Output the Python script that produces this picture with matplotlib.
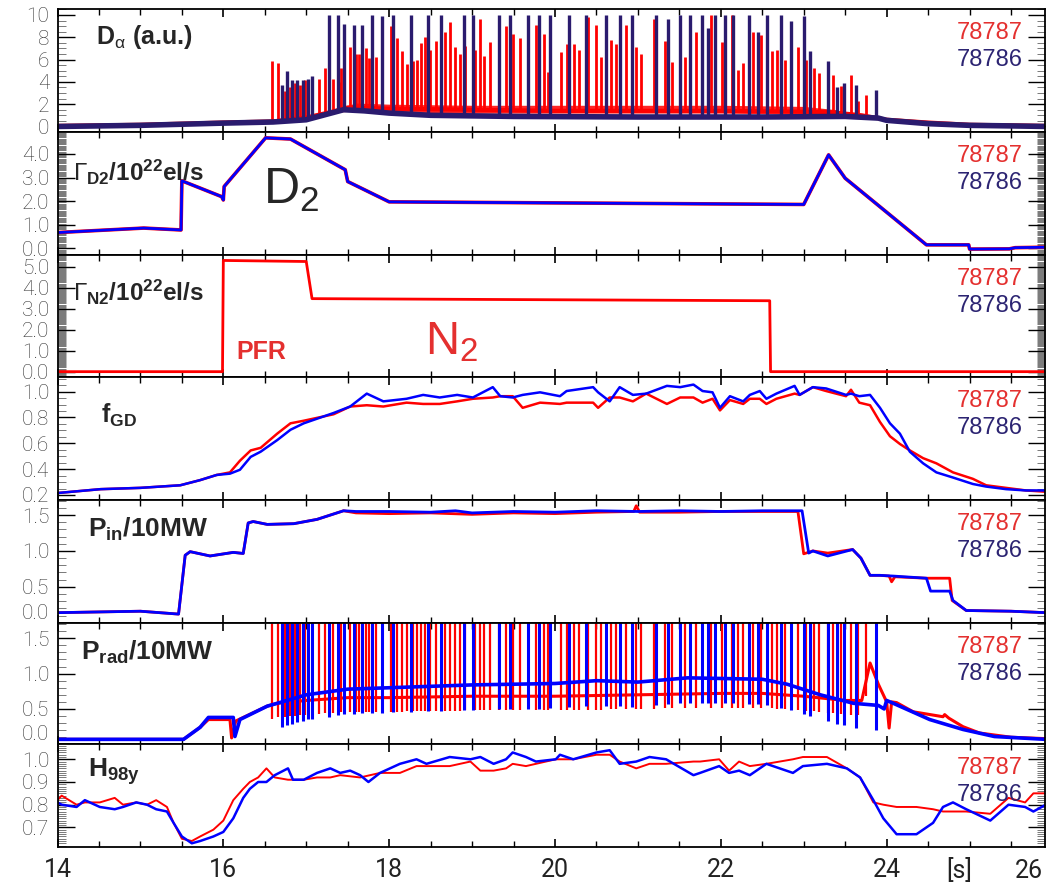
import numpy as np
import matplotlib
matplotlib.use("Agg")
import matplotlib.pyplot as plt
from matplotlib.ticker import MultipleLocator, FixedLocator

plt.rcParams['font.family'] = ['Roboto', 'DejaVu Sans']
plt.rcParams['font.weight'] = 'light'
plt.rcParams['mathtext.fontset'] = 'custom'
plt.rcParams['mathtext.rm'] = 'Liberation Sans'
plt.rcParams['mathtext.bf'] = 'Liberation Sans:bold'
plt.rcParams['mathtext.it'] = 'Liberation Sans'

RED = '#ff0000'
BLUE = '#0000ff'
NAVY = '#2a1b6e'
TXT_RED = '#e4302f'
TXT_NAVY = '#2c2472'
GRAY = '#262626'

# ---------------- data ----------------
# D-alpha baselines
da_base_t_red = [14.0, 15.0, 16.0, 16.6, 17.0, 17.3, 17.5, 18.0, 19.0, 20.0, 22.0, 23.3, 23.7, 24.0, 24.5, 25.0, 25.5, 25.92]
da_base_v_red = [0.05, 0.15, 0.35, 0.45, 0.8, 1.3, 1.7, 1.6, 1.5, 1.4, 1.4, 1.3, 1.0, 0.6, 0.35, 0.15, 0.1, 0.05]
# red inter-ELM noise band
da_band_t = [17.4, 17.6, 18.0, 19.0, 20.0, 21.0, 22.0, 23.0, 23.4]
da_band_lo = [1.3, 1.4, 1.3, 1.2, 1.2, 1.2, 1.2, 1.1, 1.0]
da_band_hi = [1.7, 2.1, 2.0, 1.9, 1.9, 1.9, 1.9, 1.8, 1.5]
da_base_t_navy = [14.0, 15.0, 16.0, 16.6, 17.0, 17.2, 17.45, 17.7, 18.0, 18.5, 19.5, 21.0, 22.5, 23.5, 23.9, 24.0, 24.5, 25.0, 25.5, 25.92]
da_base_v_navy = [0.0, 0.1, 0.3, 0.4, 0.6, 1.0, 1.5, 1.4, 1.2, 1.0, 0.9, 0.85, 0.85, 0.9, 0.75, 0.55, 0.25, 0.1, 0.05, 0.0]

# ELM spikes (time, peak)
elm_t_red = [16.59, 16.66, 16.74, 16.80, 16.86, 16.93, 16.99, 17.15, 17.23, 17.32, 17.39, 17.42, 17.53, 17.60,
             17.64, 17.72, 17.76, 17.84, 18.02, 18.10, 18.15, 18.21, 18.29, 18.33, 18.39, 18.43, 18.49, 18.56,
             18.67, 18.73, 18.80, 18.86, 18.92, 19.04, 19.10, 19.14, 19.22, 19.33, 19.41, 19.49, 19.58, 19.77,
             19.87, 19.92, 20.07, 20.14, 20.23, 20.29, 20.40, 20.50, 20.56, 20.67, 20.74, 20.86, 20.98, 21.04,
             21.19, 21.33, 21.41, 21.57, 21.70, 21.88, 22.01, 22.14, 22.21, 22.27, 22.39, 22.48, 22.62, 22.68,
             22.77, 22.93, 23.03, 23.12, 23.18, 23.29, 23.35, 23.45, 23.57, 23.65, 23.75]
elm_h_red = [5.9, 5.7, 3.2, 3.5, 3.9, 3.7, 4.2, 4.3, 5.2, 4.3, 4.0, 5.2, 7.1, 6.5,
             6.5, 7.0, 6.1, 6.2, 9.0, 7.9, 6.8, 5.6, 5.9, 6.0, 7.5, 8.0, 6.9, 7.7,
             8.5, 9.4, 7.1, 6.5, 7.2, 6.9, 9.6, 6.3, 7.6, 9.8, 9.0, 8.3, 7.9, 9.1,
             8.3, 4.9, 6.7, 7.4, 7.4, 6.9, 9.8, 9.1, 6.2, 7.8, 7.4, 9.1, 7.1, 6.5,
             9.6, 7.7, 5.8, 6.2, 8.5, 10.0, 7.6, 10.0, 5.1, 5.7, 8.5, 8.2, 6.8, 6.9,
             6.0, 7.1, 6.0, 5.2, 4.8, 4.4, 4.6, 3.6, 4.6, 2.3, 2.8]
elm_t_navy = [16.71, 16.77, 16.83, 16.89, 16.96, 17.02, 17.07, 17.27, 17.38, 17.46, 17.57, 17.67, 17.79, 17.91,
              18.05, 18.26, 18.47, 18.62, 18.90, 19.01, 19.32, 19.46, 19.68, 19.81, 19.94, 20.17, 20.37, 20.62,
              20.79, 20.93, 21.22, 21.36, 21.51, 21.63, 21.77, 21.84, 21.93, 22.05, 22.15, 22.34, 22.45, 22.56,
              22.72, 22.85, 23.00, 23.08, 23.29, 23.40, 23.48, 23.63, 23.87]
elm_h_navy = [3.7, 5.0, 4.2, 4.2, 4.2, 4.3, 4.5, 10.0, 10.0, 9.2, 9.1, 9.1, 10.0, 9.9,
              10.0, 10.0, 10.0, 10.0, 10.0, 10.0, 10.0, 10.0, 10.0, 10.0, 10.0, 10.0, 10.0, 10.0,
              10.0, 10.0, 10.0, 9.6, 10.0, 10.0, 10.0, 8.8, 10.0, 10.0, 10.0, 10.0, 8.5, 10.0,
              10.0, 9.5, 9.9, 6.8, 5.9, 3.5, 3.9, 3.7, 3.3]

# D2 fuelling
d2_t = [14.0, 15.04, 15.49, 15.5, 15.98, 16.0, 16.01, 16.51, 16.81, 17.47, 17.5, 18.0, 23.0, 23.30, 23.50,
        24.48, 24.99, 25.0, 25.48, 25.55, 25.92]
d2_v = [0.67, 0.86, 0.78, 2.86, 2.19, 2.05, 2.62, 4.68, 4.63, 3.33, 2.83, 1.97, 1.86, 3.96, 2.97,
        0.15, 0.15, -0.03, -0.02, 0.03, 0.05]

# N2 seeding
n2_t = [14.0, 15.99, 16.0, 17.0, 17.07, 22.59, 22.6, 25.92]
n2_v = [0.0, 0.0, 5.3, 5.25, 3.48, 3.38, 0.0, 0.0]

# Greenwald fraction
fgd_t = [14.0, 14.52, 15.0, 15.48, 15.72, 15.92, 16.08, 16.2, 16.33, 16.45, 16.65, 16.81, 16.97, 17.33, 17.53,
         17.73, 17.93, 18.21, 18.41, 18.61, 18.82, 19.01, 19.25, 19.34, 19.49, 19.61, 19.82, 20.06, 20.14, 20.46,
         20.52, 20.66, 20.78, 20.94, 21.10, 21.35, 21.51, 21.67, 21.78, 21.90, 21.99, 22.11, 22.27, 22.35, 22.47,
         22.55, 22.67, 22.89, 22.95, 23.11, 23.27, 23.51, 23.57, 23.67, 23.80, 23.92, 24.04, 24.16, 24.28, 24.44,
         24.60, 24.80, 25.04, 25.20, 25.44, 25.68, 25.92]
fgd_red = [0.215, 0.245, 0.255, 0.275, 0.315, 0.355, 0.375, 0.465, 0.545, 0.565, 0.675, 0.755, 0.775, 0.825, 0.885,
           0.895, 0.885, 0.915, 0.905, 0.905, 0.925, 0.945, 0.955, 0.965, 0.965, 0.875, 0.915, 0.905, 0.915, 0.915,
           0.875, 0.955, 0.955, 0.925, 0.985, 0.905, 0.955, 0.955, 0.915, 0.945, 0.855, 0.935, 0.905, 0.945, 0.945,
           0.905, 0.945, 0.985, 0.975, 1.035, 1.005, 0.965, 1.015, 0.915, 0.895, 0.765, 0.655, 0.595, 0.545, 0.485,
           0.445, 0.375, 0.325, 0.275, 0.255, 0.235, 0.225]
fgd_blue = [0.215, 0.245, 0.255, 0.275, 0.315, 0.355, 0.365, 0.395, 0.495, 0.535, 0.625, 0.705, 0.755, 0.835, 0.885,
            0.985, 0.925, 0.945, 0.975, 0.955, 0.975, 0.955, 1.035, 0.965, 0.955, 0.975, 0.995, 0.965, 1.005, 1.035,
            0.995, 0.925, 1.035, 0.975, 0.985, 1.045, 1.035, 1.055, 1.005, 0.995, 0.875, 0.965, 0.925, 0.975, 1.005,
            0.945, 0.985, 1.045, 0.975, 1.035, 1.025, 0.975, 0.985, 0.965, 0.975, 0.875, 0.755, 0.675, 0.535, 0.445,
            0.375, 0.335, 0.285, 0.265, 0.245, 0.235, 0.235]

# Heating power
pin_t_red = [14.0, 15.0, 15.46, 15.54, 15.6, 15.84, 16.12, 16.24, 16.30, 16.36, 16.53, 16.85, 17.13, 17.45, 17.6,
             18.0, 18.5, 19.0, 19.5, 20.0, 20.5, 20.95, 20.98, 21.02, 21.5, 22.0, 22.5, 22.93, 23.0, 23.11, 23.29,
             23.59, 23.69, 23.80, 23.92, 24.03, 24.06, 24.10, 24.48, 24.76, 24.79, 24.96, 25.5, 25.92]
pin_v_red = [0.14, 0.16, 0.12, 0.94, 0.99, 0.93, 0.98, 0.965, 1.39, 1.41, 1.37, 1.38, 1.44, 1.56, 1.53,
             1.52, 1.53, 1.51, 1.53, 1.52, 1.54, 1.55, 1.63, 1.54, 1.54, 1.55, 1.55, 1.55, 0.96, 1.0, 0.97,
             1.02, 0.90, 0.66, 0.66, 0.65, 0.57, 0.64, 0.62, 0.62, 0.31, 0.17, 0.16, 0.14]
pin_t_blue = [14.0, 15.0, 15.46, 15.54, 15.6, 15.84, 16.12, 16.24, 16.30, 16.36, 16.53, 16.85, 17.13, 17.45, 17.6,
              18.0, 18.5, 18.8, 19.0, 19.5, 20.0, 20.5, 21.0, 21.5, 22.0, 22.5, 22.98, 23.06, 23.11, 23.29, 23.59,
              23.69, 23.80, 23.92, 24.08, 24.48, 24.53, 24.76, 24.80, 24.96, 25.5, 25.92]
pin_v_blue = [0.14, 0.16, 0.12, 0.94, 0.99, 0.93, 0.98, 0.965, 1.39, 1.41, 1.37, 1.38, 1.44, 1.56, 1.55,
              1.55, 1.54, 1.56, 1.53, 1.55, 1.54, 1.56, 1.55, 1.56, 1.55, 1.56, 1.56, 0.97, 1.0, 0.93, 1.02,
              0.90, 0.66, 0.66, 0.65, 0.62, 0.44, 0.44, 0.31, 0.17, 0.16, 0.14]

# Radiated power (inter-ELM level)
prad_t_red = [14.0, 15.52, 15.72, 15.82, 16.08, 16.10, 16.15, 16.53, 16.65, 17.0, 17.5, 18.0, 19.0, 20.0, 21.0,
              22.0, 22.5, 23.0, 23.5, 23.7, 23.8, 23.9, 24.0, 24.03, 24.06, 24.12, 24.32, 24.68, 24.70, 24.75,
              24.92, 25.12, 25.5, 25.92]
prad_v_red = [0.07, 0.07, 0.24, 0.35, 0.35, 0.09, 0.33, 0.54, 0.58, 0.62, 0.66, 0.66, 0.68, 0.68, 0.70,
              0.72, 0.72, 0.68, 0.62, 0.62, 1.15, 0.85, 0.60, 0.23, 0.60, 0.59, 0.46, 0.39, 0.42, 0.37,
              0.25, 0.16, 0.10, 0.08]
prad_t_blue = [14.0, 15.52, 15.72, 15.82, 16.12, 16.14, 16.2, 16.53, 16.65, 17.0, 17.5, 18.0, 19.0, 20.0, 20.5,
               21.0, 21.6, 22.5, 22.8, 23.2, 23.6, 23.9, 23.97, 24.0, 24.08, 24.52, 24.92, 25.3, 25.92]
prad_v_blue = [0.07, 0.07, 0.24, 0.38, 0.38, 0.11, 0.35, 0.54, 0.58, 0.70, 0.78, 0.80, 0.84, 0.86, 0.90,
               0.88, 0.94, 0.92, 0.85, 0.70, 0.58, 0.55, 0.50, 0.62, 0.58, 0.35, 0.21, 0.11, 0.07]
prad_dip_red = 0.2
prad_dip_blue = 0.35

# H98y confinement factor
h98_t_red = [14.0, 14.05, 14.23, 14.33, 14.51, 14.69, 14.79, 14.95, 15.08, 15.19, 15.32, 15.40, 15.50, 15.62,
             15.72, 15.88, 16.0, 16.12, 16.24, 16.32, 16.42, 16.52, 16.62, 16.78, 16.97, 17.13, 17.29, 17.41,
             17.65, 17.89, 18.13, 18.33, 18.45, 18.73, 18.98, 19.10, 19.26, 19.41, 19.49, 19.65, 19.77, 20.01,
             20.22, 20.50, 20.66, 20.78, 20.98, 21.14, 21.34, 21.67, 21.75, 21.98, 22.10, 22.22, 22.35, 22.55,
             22.87, 22.99, 23.28, 23.52, 23.68, 23.84, 23.96, 24.12, 24.36, 24.56, 24.68, 24.96, 25.25, 25.47,
             25.67, 25.77, 25.92]
h98_v_red = [0.82, 0.84, 0.80, 0.81, 0.81, 0.83, 0.80, 0.81, 0.80, 0.82, 0.79, 0.72, 0.65, 0.64,
             0.66, 0.69, 0.73, 0.82, 0.87, 0.90, 0.92, 0.96, 0.92, 0.91, 0.91, 0.92, 0.92, 0.93,
             0.92, 0.94, 0.94, 0.97, 0.97, 0.97, 0.99, 0.95, 0.95, 0.96, 0.98, 0.97, 0.98, 1.00,
             1.00, 1.02, 1.02, 0.99, 0.96, 0.98, 0.98, 0.99, 0.99, 1.00, 0.95, 0.99, 0.97, 0.98,
             1.00, 1.01, 1.01, 0.96, 0.92, 0.81, 0.80, 0.79, 0.79, 0.78, 0.77, 0.77, 0.76, 0.83,
             0.81, 0.85, 0.85]
h98_t_blue = [14.0, 14.05, 14.23, 14.33, 14.51, 14.69, 14.79, 14.95, 15.08, 15.19, 15.32, 15.40, 15.50, 15.62,
              15.72, 15.88, 16.0, 16.12, 16.24, 16.32, 16.42, 16.52, 16.62, 16.78, 16.84, 16.97, 17.13, 17.29,
              17.41, 17.53, 17.65, 17.75, 17.89, 18.13, 18.33, 18.45, 18.73, 18.98, 19.10, 19.26, 19.41, 19.49,
              19.65, 19.77, 20.01, 20.06, 20.22, 20.50, 20.66, 20.78, 20.98, 21.14, 21.34, 21.67, 21.75, 21.98,
              22.10, 22.22, 22.35, 22.55, 22.87, 22.99, 23.28, 23.52, 23.68, 23.84, 23.96, 24.12, 24.36, 24.56,
              24.68, 24.80, 24.96, 25.25, 25.47, 25.67, 25.77, 25.92]
h98_v_blue = [0.81, 0.80, 0.79, 0.82, 0.79, 0.78, 0.79, 0.81, 0.80, 0.78, 0.77, 0.72, 0.66, 0.63,
              0.64, 0.66, 0.68, 0.74, 0.83, 0.87, 0.90, 0.90, 0.93, 0.96, 0.91, 0.91, 0.94, 0.96,
              0.94, 0.95, 0.93, 0.90, 0.94, 0.98, 1.00, 0.98, 1.01, 1.00, 1.01, 0.98, 1.00, 1.03,
              1.01, 0.99, 1.00, 1.02, 1.00, 1.03, 1.04, 0.98, 0.99, 1.01, 1.00, 0.93, 0.94, 0.97,
              0.94, 0.95, 0.93, 0.98, 0.94, 0.97, 0.98, 0.96, 0.92, 0.82, 0.74, 0.67, 0.67, 0.72,
              0.79, 0.81, 0.78, 0.73, 0.80, 0.79, 0.77, 0.80]

shots = ['78787', '78786']

# ---------------- figure ----------------
W, H = 1046, 886
fig = plt.figure(figsize=(W / 100, H / 100), dpi=100)

rows = [(9.3, 131.7), (131.7, 255), (255, 376.7), (376.7, 500), (500, 622.7), (622.7, 744.3), (744.3, 846.7)]
x0, x1 = 57.5, 1045
axes = [fig.add_axes([x0 / W, 1 - b / H, (x1 - x0) / W, (b - t) / H]) for t, b in rows]


def style(ax, ylim, yticks, fmt, minor):
    ax.set_xlim(14, 25.91)
    ax.set_ylim(*ylim)
    ax.yaxis.set_major_locator(FixedLocator(yticks))
    ax.set_yticklabels([fmt.format(v) for v in yticks])
    ax.yaxis.set_minor_locator(MultipleLocator(minor))
    ax.xaxis.set_major_locator(MultipleLocator(2))
    ax.xaxis.set_minor_locator(MultipleLocator(0.5))
    ax.tick_params(which='both', direction='in', top=True, right=True, labelbottom=False)
    ax.tick_params(axis='y', which='major', length=12, width=1.0, labelsize=15, pad=6, labelcolor='#333333')
    ax.tick_params(axis='y', which='minor', length=6, width=0.5, color='#444444')
    ax.tick_params(axis='x', which='major', length=6, width=1.2)
    ax.tick_params(axis='x', which='minor', length=4, width=1.0, color='black')
    for s in ax.spines.values():
        s.set_linewidth(1.3)


def shot_labels(ax):
    ax.annotate(shots[0], xy=(1, 1), xycoords='axes fraction', xytext=(-22, -24),
                textcoords='offset pixels', ha='right', va='center', fontsize=17,
                family='Liberation Sans', fontweight='normal', color=TXT_RED)
    ax.annotate(shots[1], xy=(1, 1), xycoords='axes fraction', xytext=(-22, -51),
                textcoords='offset pixels', ha='right', va='center', fontsize=17,
                family='Liberation Sans', fontweight='normal', color=TXT_NAVY)


def label(ax, x, y, s, size=18):
    fig.text(x / W, 1 - y / H, s, ha='left', va='center', fontsize=size,
             family='Liberation Sans', fontweight='bold', color=GRAY)


# panel 1: D-alpha
ax = axes[0]
ax.fill_between(da_band_t, da_band_lo, da_band_hi, color=RED, lw=0, alpha=0.85)
ax.plot(da_base_t_red, da_base_v_red, color=RED, lw=3)
ax.vlines(elm_t_red, np.interp(elm_t_red, da_base_t_red, da_base_v_red), elm_h_red, color=RED, lw=2.0)
ax.plot(da_base_t_navy, da_base_v_navy, color=NAVY, lw=4)
ax.vlines(elm_t_navy, np.interp(elm_t_navy, da_base_t_navy, da_base_v_navy), elm_h_navy, color=NAVY, lw=2.4)
style(ax, (-0.47, 10.51), [0, 2, 4, 6, 8, 10], '{:d}', 0.5)
label(ax, 96, 37, r'D$_{\alpha}$ (a.u.)')

# panel 2: D2 puff
ax = axes[1]
ax.plot(d2_t, d2_v, color=RED, lw=2.6)
ax.plot(d2_t, d2_v, color=BLUE, lw=2.0)
style(ax, (-0.28, 4.94), [0, 1, 2, 3, 4], '{:.1f}', 0.05)
label(ax, 73, 172, r'$\mathrm{\Gamma}_{\mathbf{D2}}$/10$^{\mathbf{22}}$el/s', size=17.5)
fig.text(263 / W, 1 - 190 / H, r'D$_2$', ha='left', va='center', fontsize=36,
         family='Liberation Sans', fontweight='normal', color=GRAY)

# panel 3: N2 puff
ax = axes[2]
ax.plot(n2_t, n2_v, color=RED, lw=2.0)
style(ax, (-0.24, 5.56), [0, 1, 2, 3, 4, 5], '{:.1f}', 0.05)
label(ax, 73, 292, r'$\mathrm{\Gamma}_{\mathbf{N2}}$/10$^{\mathbf{22}}$el/s', size=17.5)
fig.text(236 / W, 1 - 352 / H, 'PFR', ha='left', va='center', fontsize=18,
         family='Liberation Sans', fontweight='bold', color=TXT_RED)
fig.text(425 / W, 1 - 342 / H, r'N$_2$', ha='left', va='center', fontsize=34,
         family='Liberation Sans', fontweight='normal', color=TXT_RED)

# panel 4: f_GD
ax = axes[3]
ax.plot(fgd_t, fgd_red, color=RED, lw=1.8)
ax.plot(fgd_t, fgd_blue, color=BLUE, lw=1.8)
style(ax, (0.161, 1.116), [0.2, 0.4, 0.6, 0.8, 1.0], '{:.1f}', 0.05)
label(ax, 101, 415, r'f$_{\mathbf{GD}}$')

# panel 5: P_in
ax = axes[4]
ax.plot(pin_t_red, pin_v_red, color=RED, lw=2.0)
ax.plot(pin_t_blue, pin_v_blue, color=BLUE, lw=2.0)
style(ax, (0.0, 1.71), [0.0, 0.5, 1.0, 1.5], '{:.1f}', 0.1)
ax.yaxis.get_major_ticks()[0].label1.set_va('bottom')
label(ax, 88, 529, r'P$_{\mathbf{in}}$/10MW', size=19)

# panel 6: P_rad
ax = axes[5]
top6 = 1.72
ax.plot(prad_t_red, prad_v_red, color=RED, lw=2.2)
rb = np.interp(elm_t_red, prad_t_red, prad_v_red)
ax.vlines(elm_t_red, rb - prad_dip_red, top6 + 0.1, color=RED, lw=1.6)
ax.plot(prad_t_blue, prad_v_blue, color=BLUE, lw=2.6)
bb = np.interp(elm_t_navy, prad_t_blue, prad_v_blue)
ax.vlines(elm_t_navy, bb - prad_dip_blue, top6 + 0.1, color=BLUE, lw=2.2)
style(ax, (0.0, top6), [0.0, 0.5, 1.0, 1.5], '{:.1f}', 0.1)
ax.yaxis.get_major_ticks()[0].label1.set_va('bottom')
label(ax, 81, 652, r'P$_{\mathbf{rad}}$/10MW', size=19)

# panel 7: H98y
ax = axes[6]
ax.plot(h98_t_red, h98_v_red, color=RED, lw=1.4)
ax.plot(h98_t_blue, h98_v_blue, color=BLUE, lw=1.8)
style(ax, (0.615, 1.066), [0.7, 0.8, 0.9, 1.0], '{:.1f}', 0.01)
ax.set_xticks([14, 16, 18, 20, 22, 24])
ax.tick_params(axis='x', labelbottom=True, labelsize=18, pad=8, labelcolor='#222222')
for lbl in ax.get_xticklabels():
    lbl.set_fontweight('normal')
label(ax, 88, 772, r'H$_{\mathbf{98y}}$', size=19)
# last tick label pulled in so it stays inside the figure
fig.text(1029 / W, 1 - 871 / H, '26', ha='center', va='center', fontsize=18, fontweight='normal', color='#222222')
fig.text(959 / W, 1 - 871 / H, '[s]', ha='center', va='center', fontsize=18, fontweight='normal', color='#222222')

for ax in axes:
    shot_labels(ax)

fig.savefig('out.png', dpi=100)
plt.close(fig)
